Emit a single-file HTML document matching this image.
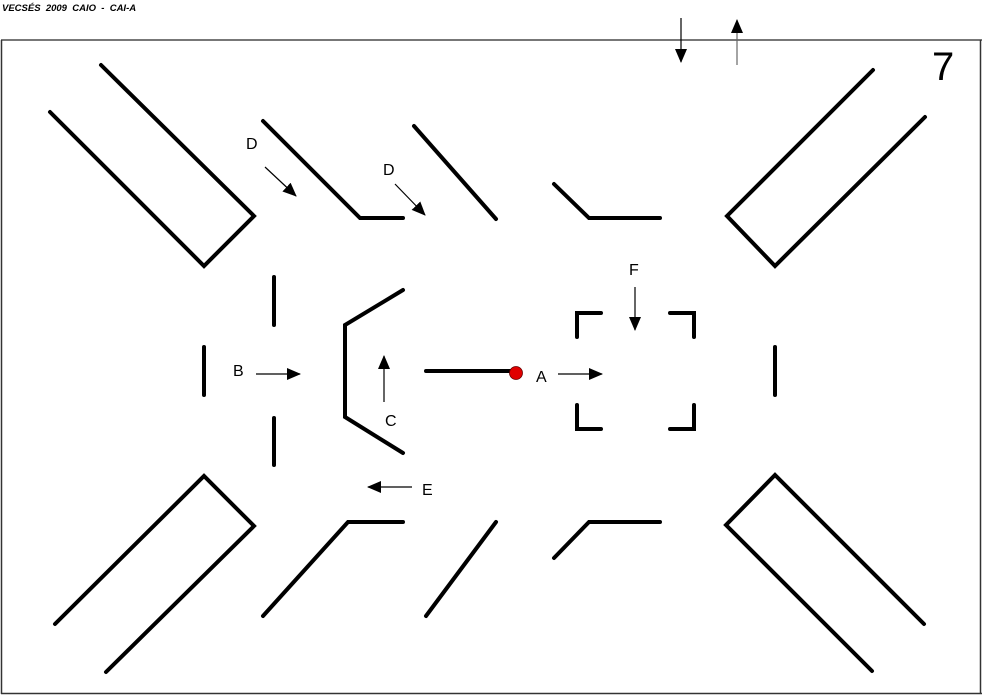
<!DOCTYPE html>
<html><head><meta charset="utf-8"><style>
html,body{margin:0;padding:0;background:#fff;}
svg{display:block;}
text{font-family:"Liberation Sans",sans-serif;}
</style></head><body>
<svg width="983" height="695" viewBox="0 0 983 695" xmlns="http://www.w3.org/2000/svg">
<defs>
<marker id="ahb" markerWidth="14" markerHeight="12" refX="13" refY="6" orient="auto" markerUnits="userSpaceOnUse" viewBox="0 0 14 12">
<path d="M0,0 L14,6 L0,12 z" fill="#000"/>
</marker>
</defs>
<text x="2" y="11" font-size="9.5" font-weight="bold" font-style="italic" style="white-space:pre">VECSÉS  2009  CAIO  -  CAI-A</text>
<line x1="1" y1="40" x2="982" y2="40" stroke="#777" stroke-width="2"/>
<line x1="1.5" y1="40" x2="1.5" y2="694" stroke="#333" stroke-width="1.5"/>
<line x1="980.5" y1="40" x2="980.5" y2="694" stroke="#333" stroke-width="1.5"/>
<line x1="1" y1="693.5" x2="982" y2="693.5" stroke="#333" stroke-width="1.5"/>
<text x="932" y="80" font-size="40">7</text>

<g fill="none" stroke="#000" stroke-width="4" stroke-linecap="round" stroke-linejoin="miter">
<polyline points="50,112 204,266 254,216 101,65"/>
<polyline points="263,121 360,218 403,218"/>
<polyline points="414,126 496,219"/>
<polyline points="554,184 589,218 660,218"/>
<polyline points="873,70 727,216 775,266 925,117"/>
<line x1="274" y1="277" x2="274" y2="325"/>
<line x1="204" y1="347" x2="204" y2="395"/>
<line x1="274" y1="418" x2="274" y2="465"/>
<line x1="775" y1="347" x2="775" y2="395"/>
<polyline points="403,290 345,325 345,417 403,453"/>
<line x1="426" y1="371" x2="510" y2="371"/>
<polyline points="577,337 577,313 601,313"/>
<polyline points="670,313 694,313 694,337"/>
<polyline points="577,405 577,429 601,429"/>
<polyline points="670,429 694,429 694,405"/>
<polyline points="55,624 204,476 254,526 106,672"/>
<polyline points="263,616 348,522 403,522"/>
<polyline points="426,616 496,522"/>
<polyline points="554,558 589,522 660,522"/>
<polyline points="924,624 775,475 726,525 872,671"/>
</g>
<circle cx="516" cy="373" r="6.5" fill="#e00000" stroke="#600" stroke-width="0.8"/>

<g stroke="#000" stroke-width="1.2" fill="none">
<line x1="265" y1="167" x2="296" y2="196" marker-end="url(#ahb)"/>
<line x1="395" y1="184" x2="425" y2="215" marker-end="url(#ahb)"/>
<line x1="256" y1="374" x2="300" y2="374" marker-end="url(#ahb)"/>
<line x1="384" y1="402" x2="384" y2="356" marker-end="url(#ahb)"/>
<line x1="558" y1="374" x2="602" y2="374" marker-end="url(#ahb)"/>
<line x1="635" y1="287" x2="635" y2="330" marker-end="url(#ahb)"/>
<line x1="412" y1="487" x2="368" y2="487" marker-end="url(#ahb)"/>
<line x1="681" y1="18" x2="681" y2="62" marker-end="url(#ahb)"/>
<line x1="737" y1="65" x2="737" y2="20" stroke="#666" marker-end="url(#ahb)"/>
</g>

<g font-size="16" fill="#000">
<text x="246" y="149">D</text>
<text x="383" y="175">D</text>
<text x="233" y="376">B</text>
<text x="385" y="426">C</text>
<text x="536" y="382">A</text>
<text x="629" y="275">F</text>
<text x="422" y="495">E</text>
</g>
</svg>
</body></html>
